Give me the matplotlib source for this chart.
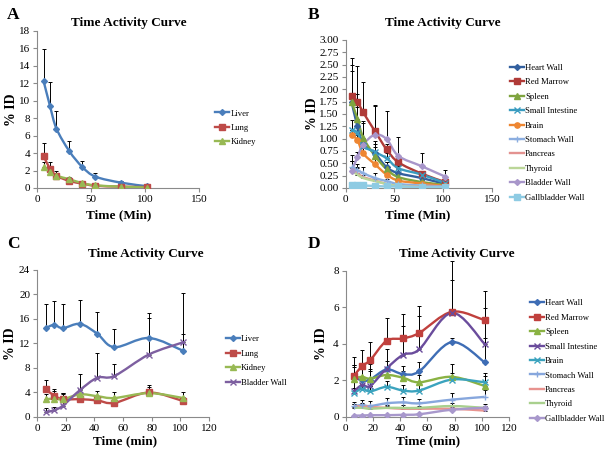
import numpy as np
import matplotlib
matplotlib.use("Agg")
import matplotlib.pyplot as plt
from matplotlib.path import Path
from matplotlib.patches import PathPatch
from matplotlib.lines import Line2D

plt.rcParams['font.family'] = ['Liberation Serif', 'DejaVu Serif']

# sampling times (min)
times = [6, 12, 18, 30, 42, 54, 78, 102]

# ---- panel A: early organs (% ID)
a_liver = [12.3, 9.4, 6.8, 4.2, 2.4, 1.3, 0.6, 0.2]
a_liver_err = [3.6, 2.8, 2.0, 1.2, 0.7, 0.4, 0.2, 0.1]
a_lung = [3.7, 2.2, 1.4, 0.8, 0.5, 0.25, 0.15, 0.1]
a_lung_err = [1.5, 0.8, 0.5, 0.35, 0.2, 0.1, 0.1, 0.05]
a_kidney = [2.4, 1.8, 1.4, 1.0, 0.55, 0.3, 0.15, 0.05]
a_kidney_err = [0.6, 0.5, 0.3, 0.3, 0.2, 0.1, 0.05, 0.05]

# ---- panel B: other organs
b_heart = [1.75, 1.25, 0.90, 0.70, 0.42, 0.30, 0.20, 0.08]
b_heart_err = [0.62, 0.40, 0.45, 0.25, 0.10, 0.08, 0.05, 0.03]
b_marrow = [1.87, 1.75, 1.53, 1.15, 0.78, 0.52, 0.29, 0.12]
b_marrow_err = [0.76, 0.73, 0.62, 0.52, 0.12, 0.08, 0.05, 0.04]
b_spleen = [1.75, 1.40, 1.02, 0.65, 0.38, 0.22, 0.12, 0.06]
b_spleen_err = [0.75, 0.50, 0.30, 0.25, 0.15, 0.10, 0.05, 0.03]
b_intestine = [1.18, 1.12, 0.85, 0.73, 0.60, 0.40, 0.27, 0.10]
b_intestine_err = [0.20, 0.15, 0.15, 0.10, 0.10, 0.05, 0.05, 0.03]
b_brain = [1.08, 0.97, 0.70, 0.48, 0.27, 0.15, 0.09, 0.04]
b_brain_err = [0.10, 0.10, 0.10, 0.10, 0.05, 0.05, 0.03, 0.02]
b_stomach = [0.42, 0.36, 0.30, 0.20, 0.14, 0.08, 0.05, 0.03]
b_stomach_err = [0.25, 0.12, 0.12, 0.10, 0.05, 0.03, 0.02, 0.01]
b_pancreas = [0.40, 0.30, 0.22, 0.15, 0.08, 0.04, 0.03, 0.02]
b_pancreas_err = [0.15, 0.10, 0.05, 0.05, 0.03, 0.02, 0.01, 0.01]
b_thyroid = [0.35, 0.27, 0.20, 0.14, 0.08, 0.04, 0.02, 0.01]
b_thyroid_err = [0.20, 0.15, 0.10, 0.05, 0.03, 0.02, 0.01, 0.01]
b_bladder = [0.35, 0.62, 0.88, 1.08, 0.99, 0.65, 0.44, 0.23]
b_bladder_err = [0.20, 0.10, 0.05, 0.60, 0.58, 0.39, 0.26, 0.13]
b_gall = [0.07, 0.06, 0.05, 0.04, 0.03, 0.03, 0.02, 0.02]
b_gall_err = [0.02, 0.02, 0.02, 0.01, 0.01, 0.01, 0.01, 0.01]

# ---- panel C
c_liver = [14.5, 15.05, 14.5, 15.2, 13.6, 11.4, 12.9, 10.8]
c_liver_err = [3.9, 3.85, 3.9, 3.9, 3.6, 3.0, 4.1, 2.8]
c_lung = [4.5, 3.5, 2.9, 2.9, 2.7, 2.3, 4.0, 2.6]
c_lung_err = [1.5, 1.1, 1.0, 0.6, 0.6, 0.5, 1.3, 0.6]
c_kidney = [2.9, 3.0, 2.9, 3.7, 3.4, 3.1, 3.9, 3.1]
c_kidney_err = [0.9, 1.2, 1.0, 0.8, 0.9, 0.9, 1.0, 0.9]
c_bladder = [0.8, 1.1, 1.85, 4.4, 6.4, 6.7, 10.2, 12.2]
c_bladder_err = [0.6, 0.6, 1.9, 2.7, 4.0, 2.0, 5.9, 8.0]

# ---- panel D
d_heart = [2.2, 2.0, 2.05, 2.6, 2.35, 2.5, 4.1, 3.0]
d_heart_err = [0.55, 0.7, 0.85, 0.45, 0.45, 0.5, 0.2, 1.35]
d_marrow = [2.24, 2.79, 3.11, 4.17, 4.3, 4.6, 5.76, 5.3]
d_marrow_err = [1.06, 0.86, 0.99, 1.23, 1.35, 1.45, 2.8, 1.6]
d_spleen = [2.1, 2.2, 2.1, 2.3, 2.15, 1.9, 2.2, 1.7]
d_spleen_err = [0.75, 0.4, 0.4, 0.3, 0.35, 0.4, 0.7, 0.7]
d_intestine = [1.4, 1.75, 1.7, 2.65, 3.4, 3.7, 5.7, 4.0]
d_intestine_err = [1.45, 1.15, 0.9, 1.05, 1.6, 1.85, 1.8, 1.95]
d_brain = [1.3, 1.55, 1.4, 1.65, 1.45, 1.45, 2.05, 1.9]
d_brain_err = [0.3, 0.25, 0.3, 0.3, 0.3, 0.3, 0.35, 0.35]
d_stomach = [0.6, 0.65, 0.6, 0.75, 0.8, 0.75, 0.95, 1.1]
d_stomach_err = [0.2, 0.3, 0.25, 0.3, 0.3, 0.25, 0.35, 0.4]
d_pancreas = [0.55, 0.6, 0.55, 0.5, 0.45, 0.45, 0.45, 0.35]
d_pancreas_err = [0.15, 0.15, 0.1, 0.1, 0.1, 0.1, 0.1, 0.1]
d_thyroid = [0.5, 0.5, 0.45, 0.5, 0.5, 0.5, 0.6, 0.5]
d_thyroid_err = [0.2, 0.2, 0.15, 0.15, 0.15, 0.1, 0.15, 0.2]
d_gall = [0.08, 0.08, 0.1, 0.1, 0.12, 0.15, 0.4, 0.5]
d_gall_err = [0.05, 0.05, 0.05, 0.05, 0.05, 0.05, 0.1, 0.1]


def smooth_path(x, y):
    # bezier segments through the points, like Excel's "smoothed line"
    pts = np.column_stack([np.asarray(x, float), np.asarray(y, float)])
    verts = [pts[0]]
    codes = [Path.MOVETO]
    n = len(pts)
    for i in range(n - 1):
        p0 = pts[i - 1] if i > 0 else pts[i]
        p1 = pts[i]
        p2 = pts[i + 1]
        p3 = pts[i + 2] if i + 2 < n else pts[i + 1]
        verts += [p1 + (p2 - p0) / 6.0, p2 - (p3 - p1) / 6.0, p2]
        codes += [Path.CURVE4] * 3
    return Path(verts, codes)


def draw_panel(ax, series, ylim, yticks, xlim, xticks, xlabel, yfmt,
               title_xy, xlabel_xy, ylabel_x, legend_pos, clip=True):
    handles = []
    for name, vals, err, color, marker, ms in series:
        ax.errorbar(times, vals, yerr=[np.zeros(len(err)), err], fmt='none',
                    ecolor='black', elinewidth=0.7, capsize=1.6, capthick=0.7,
                    zorder=2, clip_on=clip)
        ax.add_patch(PathPatch(smooth_path(times, vals), fill=False,
                               edgecolor=color, lw=1.7, zorder=3))
        if marker is not None:
            ax.plot(times, vals, ls='none', marker=marker, ms=ms, color=color,
                    mec=color, mew=1.0, zorder=4)
        handles.append(Line2D([], [], color=color, lw=1.7, marker=marker, ms=ms,
                              mew=1.0, label=name))
    ax.set_xlim(*xlim)
    ax.set_ylim(*ylim)
    ax.set_xticks(xticks)
    ax.set_yticks(yticks)
    if yfmt:
        ax.set_yticklabels([yfmt % v for v in yticks])
    for s in ['top', 'right']:
        ax.spines[s].set_visible(False)
    for s in ['left', 'bottom']:
        ax.spines[s].set_color('#8a8a8a')
        ax.spines[s].set_linewidth(0.8)
    ax.tick_params(direction='out', length=3, width=0.8, color='#8a8a8a',
                   labelsize=8, pad=2)
    ax.text(title_xy[0], title_xy[1], "Time Activity Curve", transform=ax.transAxes,
            ha='center', va='center', fontsize=9.5, fontweight='bold')
    ax.set_xlabel(xlabel, fontsize=9.5, fontweight='bold')
    ax.xaxis.set_label_coords(*xlabel_xy)
    ax.set_ylabel("% ID", fontsize=10, fontweight='bold')
    ax.yaxis.set_label_coords(ylabel_x, 0.5)
    ax.legend(handles=handles, loc='center left', bbox_to_anchor=legend_pos,
              frameon=False, fontsize=6.2, handlelength=1.6, handletextpad=0.15,
              labelspacing=0.75, borderaxespad=0, borderpad=0)


fig = plt.figure(figsize=(6.05, 4.54), dpi=100)

axA = fig.add_axes([0.0612, 0.586, 0.2678, 0.3458])
draw_panel(axA, [
    ("Liver", a_liver, a_liver_err, '#4A7EBB', 'D', 3.0),
    ("Lung", a_lung, a_lung_err, '#BE4B48', 's', 3.8),
    ("Kidney", a_kidney, a_kidney_err, '#98B954', '^', 3.8),
], (0, 18), np.arange(0, 19, 2), (0, 150), [0, 50, 100, 150], "Time (Min)", None,
    (0.568, 1.05), (0.506, -0.134), -0.117, (1.1, 0.382))

axB = fig.add_axes([0.5714, 0.586, 0.2418, 0.326])
draw_panel(axB, [
    ("Heart Wall", b_heart, b_heart_err, '#33609F', 'D', 3.0),
    ("Red Marrow", b_marrow, b_marrow_err, '#B03B38', 's', 3.8),
    ("Spleen", b_spleen, b_spleen_err, '#7FA43F', '^', 3.8),
    ("Small Intestine", b_intestine, b_intestine_err, '#3A9CC0', 'x', 3.8),
    ("Brain", b_brain, b_brain_err, '#EE8632', 'o', 3.8),
    ("Stomach Wall", b_stomach, b_stomach_err, '#8CAEE0', '+', 3.8),
    ("Pancreas", b_pancreas, b_pancreas_err, '#E39290', None, 0),
    ("Thyroid", b_thyroid, b_thyroid_err, '#BBD698', None, 0),
    ("Bladder Wall", b_bladder, b_bladder_err, '#A896CA', 'D', 3.0),
    ("Gallbladder Wall", b_gall, b_gall_err, '#8ECBE3', 's', 3.8),
], (0, 3), np.arange(0, 3.01, 0.25), (0, 150), [0, 50, 100, 150], "Time (Min)", "%.2f",
    (0.665, 1.115), (0.494, -0.142), -0.183, (1.123, 0.373))

axC = fig.add_axes([0.0612, 0.0815, 0.2843, 0.3238])
draw_panel(axC, [
    ("Liver", c_liver, c_liver_err, '#4A7EBB', 'D', 3.0),
    ("Lung", c_lung, c_lung_err, '#BE4B48', 's', 3.8),
    ("Kidney", c_kidney, c_kidney_err, '#98B954', '^', 3.8),
    ("Bladder Wall", c_bladder, c_bladder_err, '#7D5FA0', 'x', 3.8),
], (0, 24), np.arange(0, 25, 4), (0, 120), np.arange(0, 121, 20), "Time (min)", None,
    (0.63, 1.109), (0.51, -0.122), -0.116, (1.099, 0.381))

axD = fig.add_axes([0.5714, 0.0815, 0.27, 0.322])
draw_panel(axD, [
    ("Heart Wall", d_heart, d_heart_err, '#3E6DB5', 'D', 3.0),
    ("Red Marrow", d_marrow, d_marrow_err, '#C0403D', 's', 3.8),
    ("Spleen", d_spleen, d_spleen_err, '#8AB243', '^', 3.8),
    ("Small Intestine", d_intestine, d_intestine_err, '#6A4C9C', 'x', 3.8),
    ("Brain", d_brain, d_brain_err, '#3BA3BE', 'x', 3.8),
    ("Stomach Wall", d_stomach, d_stomach_err, '#87A7DD', '+', 3.8),
    ("Pancreas", d_pancreas, d_pancreas_err, '#E8938F', None, 0),
    ("Thyroid", d_thyroid, d_thyroid_err, '#A9D08E', None, 0),
    ("Gallbladder Wall", d_gall, d_gall_err, '#A898CC', 'D', 3.0),
], (0, 8), np.arange(0, 9, 2), (0, 120), np.arange(0, 121, 20), "Time (min)", None,
    (0.68, 1.114), (0.504, -0.123), -0.108, (1.128, 0.383), clip=False)

for label, x, y in [("A", 0.011, 0.967), ("B", 0.508, 0.967), ("C", 0.011, 0.463), ("D", 0.508, 0.463)]:
    fig.text(x, y, label, fontsize=12.5, fontweight='bold', va='center', ha='left')

fig.savefig("out.png", dpi=100)
